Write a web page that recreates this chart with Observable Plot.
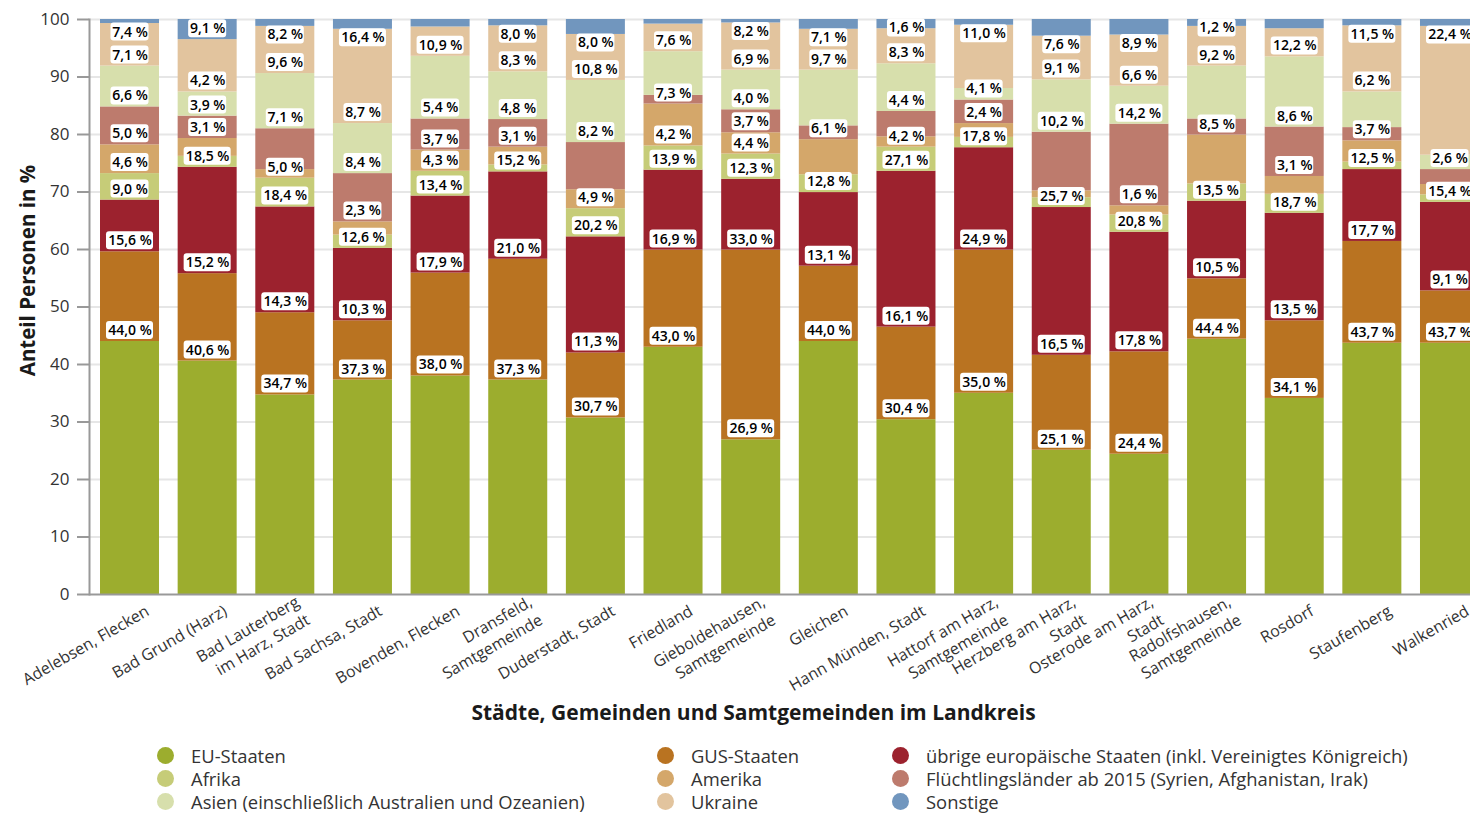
<!DOCTYPE html>
<html>
<head>
<meta charset="utf-8">
<script src="https://cdn.jsdelivr.net/npm/d3@7"></script>
<script src="https://cdn.jsdelivr.net/npm/@observablehq/plot@0.6"></script>
<style>
  html, body { margin: 0; padding: 0; overflow: hidden; background: #fff; font-family: "Open Sans", sans-serif; }
  #chart svg { display: block; max-width: none !important; }
  .legend { display: grid; grid-template-columns: 500px 235px auto; margin-left: 157px; margin-top: 14px;
            color: #333; font-size: 18.4px; line-height: 23px; }
  .legend .item { display: flex; align-items: center; white-space: nowrap; }
  .legend i { display: inline-block; width: 17px; height: 17px; border-radius: 50%; margin-right: 17px; flex: none; }
</style>
</head>
<body>
<div id="chart"></div>
<div class="legend" id="legend"></div>
<script>
// ---------- data ----------
const towns = [
  "Adelebsen, Flecken", "Bad Grund (Harz)", "Bad Lauterberg\nim Harz, Stadt", "Bad Sachsa, Stadt",
  "Bovenden, Flecken", "Dransfeld,\nSamtgemeinde", "Duderstadt, Stadt", "Friedland",
  "Gieboldehausen,\nSamtgemeinde", "Gleichen", "Hann Münden, Stadt", "Hattorf am Harz,\nSamtgemeinde",
  "Herzberg am Harz,\nStadt", "Osterode am Harz,\nStadt", "Radolfshausen,\nSamtgemeinde", "Rosdorf",
  "Staufenberg", "Walkenried"
];
const categories = [
  "EU-Staaten", "GUS-Staaten", "übrige europäische Staaten (inkl. Vereinigtes Königreich)",
  "Afrika", "Amerika", "Flüchtlingsländer ab 2015 (Syrien, Afghanistan, Irak)",
  "Asien (einschließlich Australien und Ozeanien)", "Ukraine", "Sonstige"
];
const colors = ["#9cad2e", "#b97321", "#9c222e", "#c6cc78", "#d4a76a", "#bd7b6d", "#d7dfac", "#e2c49e", "#7196be"];

const euStaaten      = [44.0, 40.6, 34.7, 37.3, 38.0, 37.3, 30.7, 43.0, 26.9, 44.0, 30.4, 35.0, 25.1, 24.4, 44.4, 34.1, 43.7, 43.7];
const gusStaaten     = [15.6, 15.2, 14.3, 10.3, 17.9, 21.0, 11.3, 16.9, 33.0, 13.1, 16.1, 24.9, 16.5, 17.8, 10.5, 13.5, 17.7,  9.1];
const uebrigeEuropa  = [ 9.0, 18.5, 18.4, 12.6, 13.4, 15.2, 20.2, 13.9, 12.3, 12.8, 27.1, 17.8, 25.7, 20.8, 13.5, 18.7, 12.5, 15.4];
const afrika         = [ 4.6,  1.9,  5.0,  2.3,  4.3,  1.2,  4.9,  4.2,  4.4,  3.1,  4.2,  1.8,  1.7,  3.0,  3.0,  3.3,  1.3,  1.3];
const amerika        = [ 5.0,  3.1,  1.5,  2.3,  3.7,  3.1,  3.3,  7.3,  3.7,  6.1,  1.8,  2.4,  1.2,  1.6,  8.5,  3.1,  3.7,  1.8];
const fluechtlinge   = [ 6.6,  3.9,  7.1,  8.4,  5.4,  4.8,  8.2,  1.5,  4.0,  2.4,  4.4,  4.1, 10.2, 14.2,  2.8,  8.6,  2.3,  2.6];
const asien          = [ 7.1,  4.2,  9.6,  8.7, 10.9,  8.3, 10.8,  7.6,  6.9,  9.7,  8.3,  2.0,  9.1,  6.6,  9.2, 12.2,  6.2,  2.5];
const ukraine        = [ 7.4,  9.1,  8.2, 16.4,  5.1,  8.0,  8.0,  4.8,  8.2,  7.1,  6.1, 11.0,  7.6,  8.9,  6.9,  4.9, 11.5, 22.4];
const sonstige       = [ 0.7,  3.5,  1.2,  1.7,  1.3,  1.1,  2.6,  0.8,  0.6,  1.7,  1.6,  1.0,  2.9,  2.7,  1.2,  1.6,  1.1,  1.2];
const yTicks = [0, 10, 20, 30, 40, 50, 60, 70, 80, 90, 100];

const seriesValues = [euStaaten, gusStaaten, uebrigeEuropa, afrika, amerika, fluechtlinge, asien, ukraine, sonstige];

// ---------- layout ----------
const width = 1491, height = 730;
const marginTop = 19, marginBottom = 136, marginLeft = 89, marginRight = 1;
const y = d3.scaleLinear([0, 100], [height - marginBottom, marginTop]);
const fmt = v => v.toFixed(1).replace(".", ",") + " %";

// stacked segments + data labels (labels sit just above each segment top;
// labels that would leave the plot are flipped inside; overlapping labels of
// smaller segments are hidden)
const segments = [], labels = [];
towns.forEach((town, i) => {
  let cum = 0;
  const cands = [];
  seriesValues.forEach((vals, k) => {
    const v = vals[i];
    const y1 = cum, y2 = cum + v;
    cum = y2;
    segments.push({town, cat: categories[k], y1, y2});
    const top = y(y2);
    const c = top < marginTop + 18.5 ? top + 8.5 : top - 11;
    cands.push({town, value: v, k, c});
  });
  cands.sort((a, b) => (b.value - a.value) || (a.k - b.k));
  const kept = [];
  for (const d of cands) if (kept.every(e => Math.abs(e.c - d.c) >= 20.7)) kept.push(d);
  for (const d of kept) {
    labels.push({town, text: fmt(d.value), ly: y.invert(d.c), b1: y.invert(d.c + 9), b2: y.invert(d.c - 9)});
  }
});

const chart = Plot.plot({
  width, height, marginTop, marginBottom, marginLeft, marginRight,
  style: {fontFamily: "Open Sans, sans-serif", background: "white", color: "#333", overflow: "visible", maxWidth: "none"},
  x: {domain: towns, paddingInner: 0.24, paddingOuter: 0.1417, round: false, axis: null},
  y: {domain: [0, 100], axis: null},
  color: {domain: categories, range: colors},
  marks: [
    Plot.ruleY(yTicks.filter(t => t > 0), {stroke: "#e6e6e6", strokeWidth: 2}),
    Plot.barY(segments, {x: "town", y1: "y1", y2: "y2", fill: "cat"}),
    Plot.ruleY([0], {stroke: "#999", strokeWidth: 2}),
    Plot.frame({anchor: "left", stroke: "#999", strokeWidth: 2}),
    Plot.axisY({ticks: yTicks, tickSize: 12, tickPadding: 8, stroke: "#999", strokeWidth: 2,
                fill: "#333", fontSize: 17, label: null, tickFormat: d => String(d)}),
    Plot.barY(labels.filter(d => d.text.length <= 5), {x: "town", y1: "b1", y2: "b2", fill: "white", rx: 3, insetLeft: 10.5, insetRight: 10.5}),
    Plot.barY(labels.filter(d => d.text.length > 5), {x: "town", y1: "b1", y2: "b2", fill: "white", rx: 3, insetLeft: 6, insetRight: 6}),
    Plot.text(labels, {x: "town", y: "ly", text: "text", fontSize: 14, fontWeight: 600, fill: "#000"}),
    Plot.text(towns, {x: d => d, text: d => d, frameAnchor: "bottom", dx: 17, dy: 14, rotate: -30,
                      textAnchor: "end", lineAnchor: "middle", lineHeight: 1.3, fontSize: 16, fill: "#333"}),
    Plot.text(["Anteil Personen in %"], {frameAnchor: "left", dx: -61, dy: -36.5, rotate: -90,
                      textAnchor: "middle", lineAnchor: "middle",
                      fontWeight: "bold", fontSize: 20.5, fill: "#1a1a1a"}),
    Plot.text(["Städte, Gemeinden und Samtgemeinden im Landkreis"], {frameAnchor: "bottom", dx: -36.5, dy: 119,
                      textAnchor: "middle", lineAnchor: "middle",
                      fontWeight: "bold", fontSize: 21, fill: "#1a1a1a"})
  ]
});
document.getElementById("chart").appendChild(chart);

// legend (row-major, three columns)
const legend = document.getElementById("legend");
categories.forEach((c, k) => {
  const item = document.createElement("div");
  item.className = "item";
  const dot = document.createElement("i");
  dot.style.background = colors[k];
  item.appendChild(dot);
  item.appendChild(document.createTextNode(c));
  legend.appendChild(item);
});
</script>
</body>
</html>
